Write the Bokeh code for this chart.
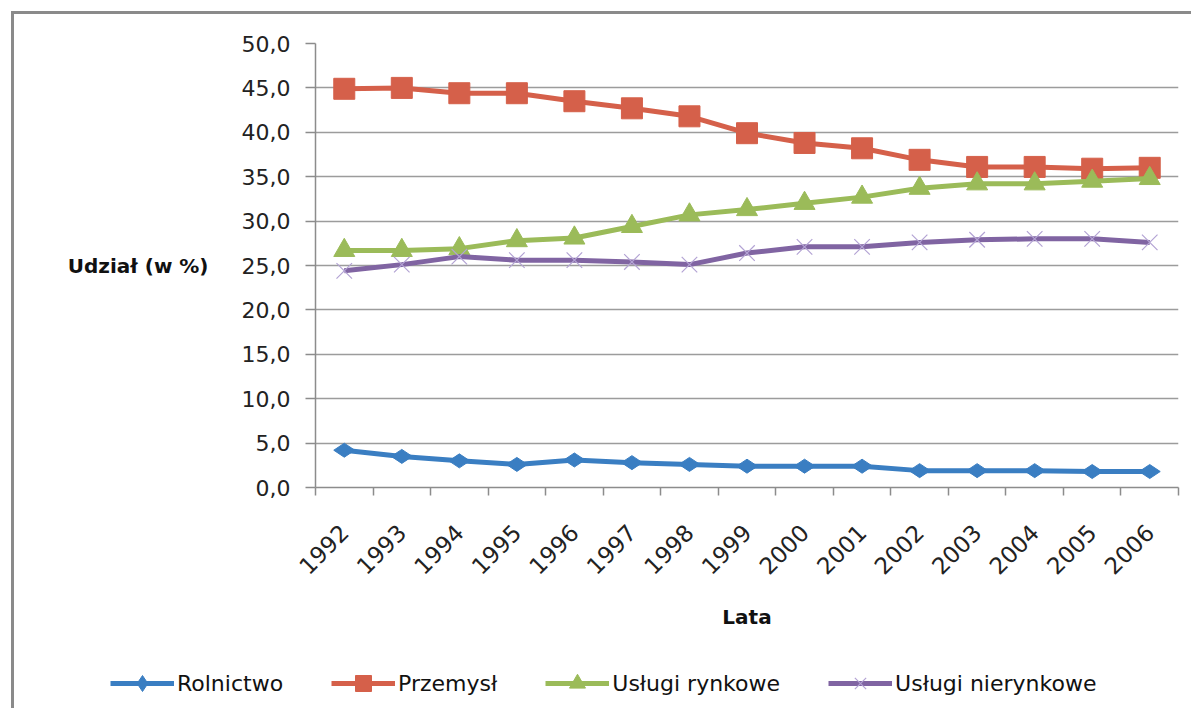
import math
from bokeh.plotting import figure
from bokeh.layouts import column
from bokeh.models import FixedTicker, Range1d, Legend, LegendItem
from bokeh.embed import file_html
from bokeh.resources import INLINE

years = ["1992", "1993", "1994", "1995", "1996", "1997", "1998", "1999",
         "2000", "2001", "2002", "2003", "2004", "2005", "2006"]
rolnictwo = [4.2, 3.5, 3.0, 2.6, 3.1, 2.8, 2.6, 2.4, 2.4, 2.4, 1.9, 1.9, 1.9, 1.8, 1.8]
przemysl = [44.9, 45.0, 44.4, 44.4, 43.5, 42.7, 41.8, 39.9, 38.8, 38.2, 36.9, 36.1, 36.1, 35.9, 36.0]
uslugi_rynkowe = [26.7, 26.7, 26.9, 27.8, 28.1, 29.4, 30.7, 31.3, 32.0, 32.7, 33.7, 34.2, 34.2, 34.5, 34.8]
uslugi_nierynkowe = [24.4, 25.1, 26.0, 25.6, 25.6, 25.4, 25.1, 26.4, 27.1, 27.1, 27.6, 27.9, 28.0, 28.0, 27.6]
series_names = ["Rolnictwo", "Przemysł", "Usługi rynkowe", "Usługi nierynkowe"]
y_ticks = [0, 5, 10, 15, 20, 25, 30, 35, 40, 45, 50]
y_tick_labels = ["0,0", "5,0", "10,0", "15,0", "20,0", "25,0", "30,0", "35,0", "40,0", "45,0", "50,0"]
x_title = "Lata"
y_title = "Udział (w %)"

FONT = "DejaVu Sans"
AXIS_GRAY = "#8c8c8c"
n = len(years)
xs = [i + 0.5 for i in range(n)]

p = figure(width=1177, height=636, x_range=Range1d(0, n), y_range=Range1d(0, 50),
           min_border_left=301, min_border_right=13, min_border_top=29, min_border_bottom=163,
           toolbar_location=None, output_backend="svg", outline_line_color=None)

# x axis: labels at category centers, ticks at category boundaries
p.xaxis.ticker = FixedTicker(ticks=xs, minor_ticks=list(range(n + 1)))
p.xaxis.major_label_overrides = {x: y for x, y in zip(xs, years)}
p.xaxis.major_tick_in = 0
p.xaxis.major_tick_out = 0
p.xaxis.minor_tick_in = 0
p.xaxis.minor_tick_out = 8
p.xaxis.minor_tick_line_color = AXIS_GRAY
p.xaxis.minor_tick_line_width = 1.5
p.xaxis.axis_line_color = AXIS_GRAY
p.xaxis.axis_line_width = 1.5
p.xaxis.major_label_orientation = math.pi / 4
p.xaxis.major_label_standoff = 33
p.xaxis.major_label_text_font = FONT
p.xaxis.major_label_text_font_size = "23px"
p.xaxis.major_label_text_color = "#222222"
p.xaxis.axis_label = x_title
p.xaxis.axis_label_text_font = FONT
p.xaxis.axis_label_text_font_style = "bold"
p.xaxis.axis_label_text_font_size = "20px"
p.xaxis.axis_label_text_color = "#111111"
p.xaxis.axis_label_standoff = 20

p.yaxis.ticker = FixedTicker(ticks=y_ticks, minor_ticks=[])
p.yaxis.major_label_overrides = {t: l for t, l in zip(y_ticks, y_tick_labels)}
p.yaxis.major_tick_in = 0
p.yaxis.major_tick_out = 10
p.yaxis.major_tick_line_color = AXIS_GRAY
p.yaxis.major_tick_line_width = 1.5
p.yaxis.axis_line_color = AXIS_GRAY
p.yaxis.axis_line_width = 1.5
p.yaxis.major_label_standoff = 15
p.yaxis.major_label_text_font = FONT
p.yaxis.major_label_text_font_size = "22px"
p.yaxis.major_label_text_color = "#222222"
p.yaxis.axis_label = y_title
p.yaxis.axis_label_orientation = "horizontal"
p.yaxis.axis_label_text_font = FONT
p.yaxis.axis_label_text_font_style = "bold"
p.yaxis.axis_label_text_font_size = "20px"
p.yaxis.axis_label_text_color = "#111111"
p.yaxis.axis_label_standoff = 30

p.xgrid.grid_line_color = None
p.ygrid.ticker = FixedTicker(ticks=y_ticks[1:], minor_ticks=[])
p.ygrid.grid_line_color = "#9c9c9c"
p.ygrid.grid_line_width = 1.5

colors = ["#3a7ec2", "#d5604a", "#9bbb59", "#8064a2"]
x_marker_color = "#b3a3d4"
data = [rolnictwo, przemysl, uslugi_rynkowe, uslugi_nierynkowe]


def add_series(fig, x, y, i, col):
    lr = fig.line(x, y, line_color=col, line_width=5)
    if i == 0:
        sr = fig.scatter(x, y, marker="diamond", size=21, angle=math.pi / 2,
                         fill_color=col, line_color=col)
    elif i == 1:
        sr = fig.scatter(x, y, marker="square", size=21, fill_color=col, line_color=col)
    elif i == 2:
        sr = fig.scatter(x, y, marker="triangle", size=21, fill_color=col, line_color=col)
    else:
        sr = fig.scatter(x, y, marker="x", size=22, line_color=x_marker_color, line_width=1.2)
    return lr, sr


for i, (vals, col) in enumerate(zip(data, colors)):
    add_series(p, xs, vals, i, col)

# legend in its own strip below the chart; its series lie outside its (empty) view
pl = figure(width=1177, height=58, x_range=Range1d(0, n), y_range=Range1d(100, 101),
            x_axis_type=None, y_axis_type=None, min_border=0,
            toolbar_location=None, output_backend="svg", outline_line_color=None)
pl.xgrid.visible = False
pl.ygrid.visible = False
pl.border_fill_alpha = 0
if "frame_align" in pl.properties():
    pl.frame_align = False
    legend_x = 96
else:
    legend_x = -205

items = []
for i, (name, vals, col) in enumerate(zip(series_names, data, colors)):
    lr, sr = add_series(pl, xs, vals, i, col)
    items.append(LegendItem(label=name, renderers=[lr, sr]))

legend = Legend(items=items, orientation="horizontal", location=(legend_x, 5),
                glyph_width=64, glyph_height=40, label_standoff=3, spacing=48,
                padding=0, margin=0, border_line_color=None, background_fill_alpha=0,
                label_text_font=FONT, label_text_font_size="22px",
                label_text_color="#111111", label_text_baseline="middle")
pl.add_layout(legend)

layout = column(p, pl, spacing=0,
                styles={"border-top": "3px solid #8a8a8a", "border-left": "3px solid #8a8a8a",
                        "margin-top": "11px", "margin-left": "11px"})

open("out.html", "w").write(file_html(layout, INLINE))
